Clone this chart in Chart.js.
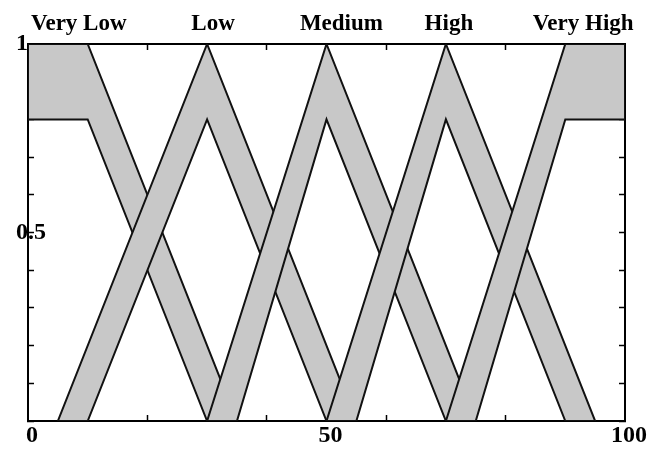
<!DOCTYPE html>
<html>
<head>
<meta charset="utf-8">
<script src="https://cdn.jsdelivr.net/npm/chart.js@4.4.1/dist/chart.umd.min.js"></script>
<style>
  html, body { margin: 0; padding: 0; background: #fff; }
  #wrap { width: 665px; height: 451px; position: relative; }
</style>
</head>
<body>
<div id="wrap"><canvas id="chart"></canvas></div>
<script>
const setNames = ['Very Low', 'Low', 'Medium', 'High', 'Very High'];

// corner points of the upper and lower membership functions
const upperX = [[0, 10, 35], [5, 30, 55], [30, 50, 75], [50, 70, 95], [70, 90, 100]];
const upperY = [[1, 1, 0], [0, 1, 0], [0, 1, 0], [0, 1, 0], [0, 1, 1]];
const lowerX = [[0, 10, 30], [10, 30, 50], [35, 50, 70], [55, 70, 90], [75, 90, 100]];
const lowerY = [[0.8, 0.8, 0], [0, 0.8, 0], [0, 0.8, 0], [0, 0.8, 0], [0, 0.8, 0.8]];

const nameTickAt = [8.5, 31, 52.5, 70.5, 93];
const xMarkTicks = [20, 40, 60, 80];
const xLabelTicks = [0, 50, 100];
const yLabelTicks = [0.5, 1];

const ink = '#111';
const fog = '#c8c8c8';
const serif = 'Liberation Serif';

// footprint of uncertainty: walk the upper MF, come back along the lower one
function footprint(i) {
  const pts = upperX[i].map((x, k) => ({ x, y: upperY[i][k] }));
  for (let k = lowerX[i].length - 1; k >= 0; k--) {
    pts.push({ x: lowerX[i][k], y: lowerY[i][k] });
  }
  pts.push(pts[0]);
  return pts;
}

function near(list, v) {
  return list.findIndex((t) => Math.abs(t - v) < 1e-6);
}

const datasets = setNames.map((name, i) => ({
  label: name,
  data: footprint(i),
  fill: 'shape',
  backgroundColor: fog,
  borderColor: ink,
  borderWidth: 2,
  pointRadius: 0,
  tension: 0,
  order: setNames.length - i
}));

const frame = { display: true, color: '#000', width: 2 };

new Chart(document.getElementById('chart'), {
  type: 'line',
  data: { datasets },
  options: {
    responsive: true,
    maintainAspectRatio: false,
    animation: false,
    layout: { padding: 0 },
    plugins: {
      legend: { display: false },
      tooltip: { enabled: false },
      filler: { propagate: false, drawTime: 'beforeDatasetDraw' }
    },
    scales: {
      x: {
        type: 'linear',
        position: 'bottom',
        min: 0,
        max: 100,
        afterBuildTicks: (s) => {
          s.ticks = [...xLabelTicks, ...xMarkTicks].sort((a, b) => a - b).map((value) => ({ value }));
        },
        afterFit: (s) => { s.height = 30; },
        border: frame,
        grid: {
          drawOnChartArea: false,
          drawTicks: true,
          tickLength: -6,
          tickWidth: 1.5,
          tickColor: (c) => (c.tick && near(xMarkTicks, c.tick.value) >= 0 ? '#000' : 'rgba(0,0,0,0)')
        },
        ticks: {
          autoSkip: false,
          maxRotation: 0,
          padding: 6,
          labelOffset: 4,
          color: '#000',
          font: { family: serif, weight: 'bold', size: 24 },
          callback: (v) => (near(xLabelTicks, v) >= 0 ? String(v) : '')
        }
      },
      xTop: {
        type: 'linear',
        position: 'top',
        min: 0,
        max: 100,
        afterBuildTicks: (s) => {
          s.ticks = [...nameTickAt, ...xMarkTicks].sort((a, b) => a - b).map((value) => ({ value }));
        },
        afterFit: (s) => { s.height = 44; },
        border: frame,
        grid: {
          drawOnChartArea: false,
          drawTicks: true,
          tickLength: -6,
          tickWidth: 1.5,
          tickColor: (c) => (c.tick && near(xMarkTicks, c.tick.value) >= 0 ? '#000' : 'rgba(0,0,0,0)')
        },
        ticks: {
          autoSkip: false,
          maxRotation: 0,
          padding: 12,
          color: '#000',
          font: { family: serif, weight: 'bold', size: 23 },
          callback: (v) => {
            const k = near(nameTickAt, v);
            return k >= 0 ? setNames[k] : '';
          }
        }
      },
      y: {
        type: 'linear',
        position: 'left',
        min: 0,
        max: 1,
        afterFit: (s) => { s.width = 28; },
        border: frame,
        grid: {
          drawOnChartArea: false,
          drawTicks: true,
          tickLength: -6,
          tickWidth: 1.5,
          tickColor: '#000'
        },
        ticks: {
          stepSize: 0.1,
          mirror: true,
          padding: -12,
          color: '#000',
          font: { family: serif, weight: 'bold', size: 24 },
          callback: (v) => (near(yLabelTicks, v) >= 0 ? String(v) : '')
        }
      },
      yRight: {
        type: 'linear',
        position: 'right',
        min: 0,
        max: 1,
        afterFit: (s) => { s.width = 40; },
        border: frame,
        grid: {
          drawOnChartArea: false,
          drawTicks: true,
          tickLength: -6,
          tickWidth: 1.5,
          tickColor: '#000'
        },
        ticks: {
          stepSize: 0.1,
          display: false
        }
      }
    }
  }
});
</script>
</body>
</html>
